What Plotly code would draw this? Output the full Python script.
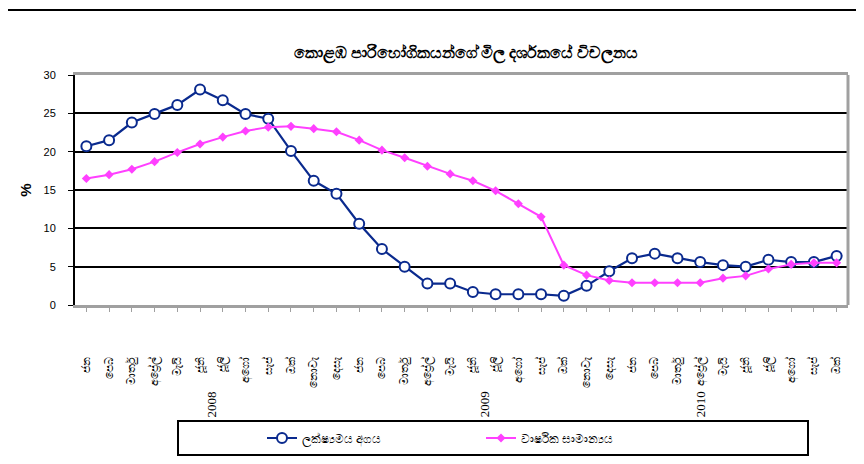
import plotly.graph_objects as go

months = ["ජන", "පෙබ", "මාර්තු", "අප්‍රේල්", "මැයි", "ජූනි", "ජූලි", "අගෝ", "සැප්", "ඔක්", "නොවැ", "දෙසැ"]
years = ["2008", "2009", "2010"]
month_labels = months + months + months[:10]

point_value = [20.7, 21.5, 23.8, 24.9, 26.1, 28.1, 26.7, 24.9, 24.3, 20.1, 16.2, 14.5,
               10.6, 7.3, 5.0, 2.8, 2.8, 1.7, 1.4, 1.4, 1.4, 1.2, 2.5, 4.4,
               6.1, 6.7, 6.1, 5.6, 5.2, 5.0, 5.9, 5.6, 5.6, 6.4]
annual_avg = [16.5, 17.0, 17.7, 18.7, 19.9, 21.0, 21.9, 22.7, 23.2, 23.3, 23.0, 22.6,
              21.5, 20.2, 19.2, 18.1, 17.1, 16.2, 14.9, 13.2, 11.5, 5.2, 3.9, 3.2,
              2.9, 2.9, 2.9, 2.9, 3.5, 3.8, 4.7, 5.3, 5.5, 5.5]
y_ticks = [0, 5, 10, 15, 20, 25, 30]

title_text = "කොළඹ පාරිභෝගිකයන්ගේ මිල දර්ශකයේ විචලනය"
name_point = "ලක්ෂ්‍යමය අගය"
name_avg = "වාර්ෂික සාමාන්‍යය"

OFF = 8  # page body margin of the browser
W, H = 864 - OFF, 464 - OFF
L, R, T, B = 75 - OFF, 848 - OFF, 75 - OFF, 305 - OFF


def px_x(p):
    return (p - OFF - L) / (R - L)


def px_y(p):
    return (B - (p - OFF)) / (B - T)


x_idx = list(range(len(month_labels)))

fig = go.Figure()
fig.add_trace(go.Scatter(
    x=x_idx, y=point_value, name=name_point, mode="lines+markers",
    line=dict(color="#0a2a8e", width=2.2),
    marker=dict(symbol="circle", size=10, color="white",
                line=dict(color="#0a2a8e", width=2)),
))
fig.add_trace(go.Scatter(
    x=x_idx, y=annual_avg, name=name_avg, mode="lines+markers",
    line=dict(color="#ff40ff", width=2),
    marker=dict(symbol="diamond", size=7, color="#ff40ff"),
))

shapes = [
    dict(type="rect", xref="paper", yref="paper",
         x0=px_x(5), x1=px_x(890), y0=px_y(490), y1=px_y(10),
         line=dict(color="black", width=2), layer="below"),
    dict(type="line", xref="paper", yref="paper", x0=1, x1=1, y0=0, y1=1,
         line=dict(color="#a0a0a0", width=3)),
    dict(type="rect", xref="paper", yref="paper",
         x0=px_x(178), x1=px_x(808), y0=px_y(455), y1=px_y(421),
         line=dict(color="black", width=2)),
]

year_pos = [5.5, 17.5, 27]
annotations = [
    dict(x=xp, y=px_y(404), xref="x", yref="paper", text=yr, showarrow=False,
         textangle=-90, xanchor="center", yanchor="middle",
         font=dict(family="Liberation Serif", size=13, color="black"))
    for xp, yr in zip(year_pos, years)
]

fig.update_layout(
    width=W, height=H,
    margin=dict(l=L, r=W - R, t=T, b=H - B, autoexpand=False),
    paper_bgcolor="white", plot_bgcolor="white",
    title=dict(text="<b>" + title_text + "</b>", x=px_x(466), xref="paper",
               y=1 - (52 - OFF) / H, yanchor="middle", xanchor="center",
               font=dict(size=16, color="black")),
    showlegend=True,
    legend=dict(orientation="h", x=px_x(262), xanchor="left",
                y=px_y(438), yanchor="middle", bgcolor="rgba(0,0,0,0)",
                entrywidth=174, entrywidthmode="pixels",
                font=dict(size=12, color="black")),
    shapes=shapes,
    annotations=annotations,
    xaxis=dict(range=[-0.5, len(month_labels) - 0.5], tickvals=x_idx, ticktext=month_labels,
               tickangle=-90, showgrid=False, zeroline=False,
               showline=True, linecolor="#a0a0a0", linewidth=3, mirror=True,
               ticks="outside", tickson="boundaries", ticklen=4, tickcolor="#a0a0a0",
               ticklabelstandoff=41,
               tickfont=dict(family="Liberation Serif", size=11, color="black")),
    yaxis=dict(range=[0, 30], tickvals=y_ticks, showgrid=True, gridcolor="black", gridwidth=2,
               zeroline=False, showline=True, linecolor="black", linewidth=2,
               ticks="outside", ticklen=5, tickcolor="black", ticklabelstandoff=10,
               tickfont=dict(family="Liberation Sans", size=11, color="black"),
               title=dict(text="<b>%</b>", standoff=8,
                          font=dict(family="Liberation Sans", size=15, color="black"))),
)

fig.write_html("out.html")
